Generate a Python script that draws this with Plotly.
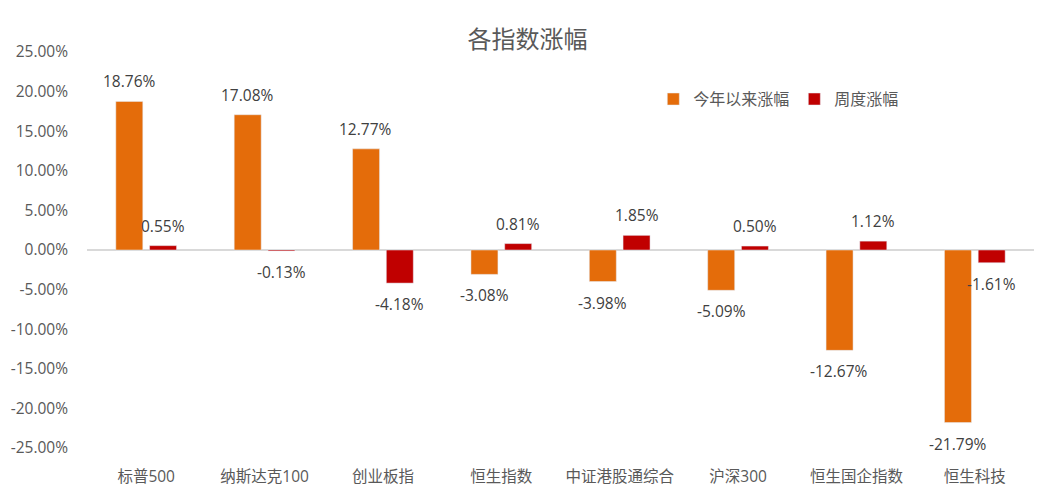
import plotly.graph_objects as go

categories = ["标普500", "纳斯达克100", "创业板指", "恒生指数", "中证港股通综合", "沪深300", "恒生国企指数", "恒生科技"]
ytd = [18.76, 17.08, 12.77, -3.08, -3.98, -5.09, -12.67, -21.79]
weekly = [0.55, -0.13, -4.18, 0.81, 1.85, 0.50, 1.12, -1.61]
series_names = ["今年以来涨幅", "周度涨幅"]
series_colors = ["#E46C0A", "#C00000"]
tick_vals = [25, 20, 15, 10, 5, 0, -5, -10, -15, -20, -25]
tick_text = [f"{v:.2f}%" for v in tick_vals]

FONT = "Open Sans, Noto Sans CJK SC, sans-serif"

fig = go.Figure()
for name, vals, col in zip(series_names, [ytd, weekly], series_colors):
    fig.add_trace(go.Bar(x=categories, y=vals, name=name, marker=dict(color=col)))

# data labels (offset outside bar ends)
annotations = []
for i, vals in enumerate([ytd, weekly]):
    xs = -17 if i == 0 else 17
    for c, v in zip(categories, vals):
        annotations.append(dict(
            x=c, y=v, xref="x", yref="y", text=f"{v:.2f}%", showarrow=False,
            xshift=xs, yshift=20 if v >= 0 else -21, xanchor="center", yanchor="middle",
            font=dict(size=15.5, color="#404040", family=FONT),
        ))

fig.update_layout(
    width=1056, height=493,
    margin=dict(l=79, r=30, t=44, b=53, autoexpand=False),
    paper_bgcolor="white", plot_bgcolor="white",
    font=dict(family=FONT, color="#595959", size=15.5),
    title=dict(text="各指数涨幅", x=0.492, xref="container", xanchor="center",
               y=0.935, yref="container", yanchor="middle",
               font=dict(size=24, color="#595959", family=FONT)),
    barmode="group", bargap=0.43, bargroupgap=0.2,
    showlegend=True,
    legend=dict(orientation="h", x=0.598, y=0.881, xanchor="left", yanchor="middle",
                font=dict(size=16, color="#595959", family=FONT),
                bgcolor="rgba(0,0,0,0)", itemwidth=30, traceorder="normal"),
    annotations=annotations,
    xaxis=dict(showgrid=False, showline=False, ticks="", automargin=False,
               tickfont=dict(size=15.5, color="#595959"), ticklabelstandoff=17),
    yaxis=dict(range=[-25, 25], tickvals=tick_vals, ticktext=tick_text, automargin=False,
               showgrid=False, showline=False, zeroline=True, zerolinecolor="#D9D9D9",
               zerolinewidth=1.5, ticks="", tickfont=dict(size=15.5, color="#595959"),
               ticklabelstandoff=18),
)

fig.write_html("out.html")
